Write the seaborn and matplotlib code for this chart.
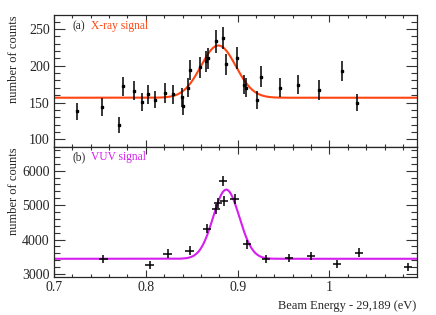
import numpy as np
import pandas as pd
import matplotlib
matplotlib.use("Agg")
import matplotlib.pyplot as plt
import seaborn as sns
from matplotlib.ticker import MultipleLocator, FormatStrFormatter

# panel (a): X-ray signal
x_a = [0.725, 0.752, 0.7705, 0.775, 0.7876, 0.7956, 0.8025, 0.810, 0.821, 0.8294,
       0.8396, 0.8407, 0.8454, 0.848, 0.8585, 0.8654, 0.8676, 0.8763, 0.8843, 0.8872,
       0.8992, 0.9064, 0.9086, 0.921, 0.925, 0.9465, 0.9653, 0.989, 1.014, 1.0304]
y_a = [138, 144, 119, 172, 166, 151, 161, 154, 163, 161,
       157, 145, 170, 194, 198, 206, 210, 233, 238, 202,
       211, 174, 170, 153, 185, 170, 174, 167, 193, 150]
yerr_a = [12, 12, 11, 13, 13, 12, 13, 12, 13, 13,
          13, 12, 13, 14, 14, 14, 14, 15, 15, 14,
          15, 13, 13, 12, 14, 13, 13, 13, 14, 12]
# gaussian fit: baseline, amplitude, centre, sigma
fit_a = (156.5, 71.0, 0.879, 0.019)

# panel (b): VUV signal
x_b = [0.7538, 0.804, 0.8236, 0.8476, 0.8668, 0.8767, 0.879, 0.884, 0.8854, 0.8966,
       0.910, 0.931, 0.9563, 0.9795, 1.008, 1.032, 1.0857]
y_b = [3430, 3260, 3590, 3680, 4320, 4900, 5060, 5700, 5120, 5190,
       3860, 3430, 3460, 3520, 3280, 3620, 3210]
yerr_b = [120, 115, 120, 125, 135, 145, 145, 155, 145, 145,
          125, 120, 120, 120, 115, 120, 115]
xerr_b = 0.0045
fit_b = (3440.0, 2010.0, 0.8876, 0.0142)

col_a = "#ff4512"
col_b = "#d61ef0"

sns.set_style("ticks")
plt.rcParams["font.family"] = ["Liberation Serif", "DejaVu Serif"]


def gauss(x, p):
    base, amp, mu, sig = p
    return base + amp * np.exp(-(x - mu) ** 2 / (2 * sig ** 2))


fig = plt.figure(figsize=(4.36, 3.15), dpi=100)
ax1 = fig.add_axes([0.1239, 0.5333, 0.8318, 0.4191])
ax2 = fig.add_axes([0.1239, 0.1206, 0.8318, 0.4127], sharex=ax1)

xs = np.linspace(0.7, 1.095, 600)

# (a)
sns.lineplot(data=pd.DataFrame({"x": xs, "y": gauss(xs, fit_a)}), x="x", y="y",
             ax=ax1, color=col_a, lw=1.5, zorder=2)
ax1.errorbar(x_a, y_a, yerr=yerr_a, fmt="s", ms=1.7, color="black", ecolor="black",
             elinewidth=1.1, capsize=0, zorder=3)
ax1.set_ylim(89.5, 269)
ax1.yaxis.set_major_locator(MultipleLocator(50))
ax1.yaxis.set_minor_locator(MultipleLocator(10))
ax1.text(0.052, 0.915, "(a)", transform=ax1.transAxes, fontsize=8.3, va="center")
ax1.text(0.103, 0.915, "X-ray signal", transform=ax1.transAxes, fontsize=8.3,
         va="center", color=col_a)
ax1.tick_params(labelbottom=False)

# (b)
sns.lineplot(data=pd.DataFrame({"x": xs, "y": gauss(xs, fit_b)}), x="x", y="y",
             ax=ax2, color=col_b, lw=1.5, zorder=2)
ax2.errorbar(x_b, y_b, yerr=yerr_b, xerr=xerr_b, fmt="none", color="black",
             elinewidth=1.1, capsize=0, zorder=3)
ax2.set_ylim(2910, 6690)
ax2.yaxis.set_major_locator(MultipleLocator(1000))
ax2.yaxis.set_minor_locator(MultipleLocator(200))
ax2.text(0.052, 0.92, "(b)", transform=ax2.transAxes, fontsize=8.3, va="center")
ax2.text(0.103, 0.92, "VUV signal", transform=ax2.transAxes, fontsize=8.3,
         va="center", color=col_b)

ax2.set_xlim(0.7, 1.095)
ax2.xaxis.set_major_locator(MultipleLocator(0.1))
ax2.xaxis.set_minor_locator(MultipleLocator(0.02))
ax2.xaxis.set_major_formatter(FormatStrFormatter("%g"))
ax2.set_xlabel("Beam Energy - 29,189 (eV)", loc="right", fontsize=9, labelpad=4)

for ax in (ax1, ax2):
    ax.set_ylabel("number of counts", loc="top", fontsize=9)
    ax.yaxis.set_label_coords(-0.095, 1.0)
    ax.tick_params(which="both", direction="in", top=True, right=True, width=0.8,
                   color="#333333", labelsize=10, pad=3)
    ax.tick_params(axis="y", which="major", length=8)
    ax.tick_params(axis="y", which="minor", length=4)
    ax.tick_params(axis="x", which="major", length=5)
    ax.tick_params(axis="x", which="minor", length=2.5)
    for s in ax.spines.values():
        s.set_linewidth(0.9)
    if ax is ax1:
        ax.set_xlabel("")

fig.savefig("out.png", dpi=100)
